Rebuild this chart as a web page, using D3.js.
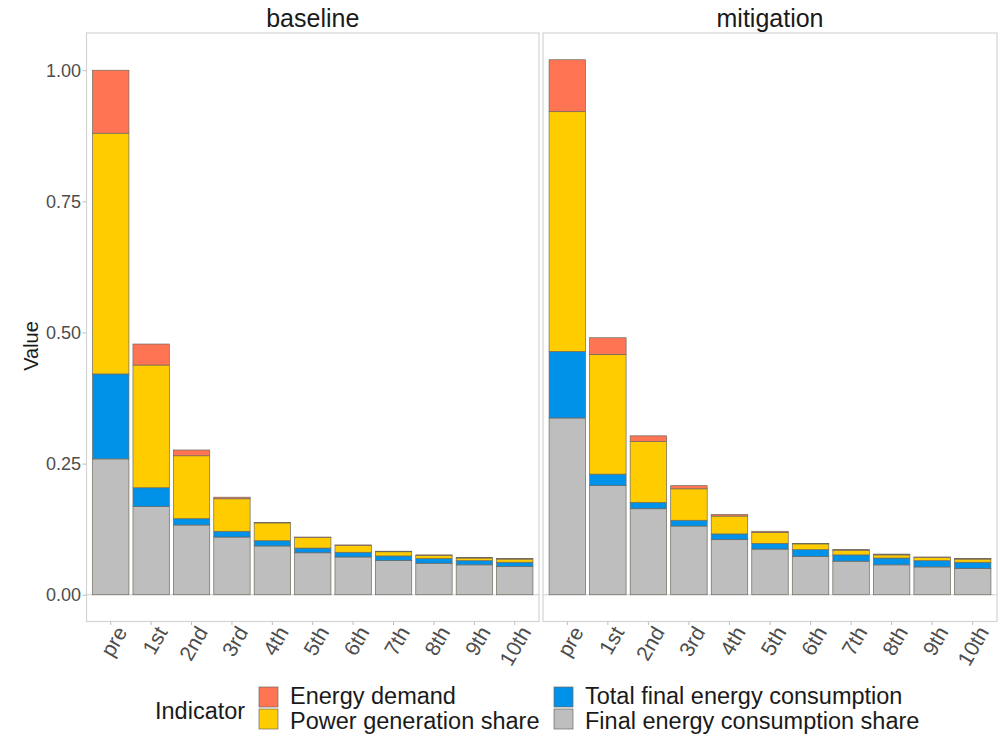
<!DOCTYPE html>
<html>
<head>
<meta charset="utf-8">
<script src="https://cdn.jsdelivr.net/npm/d3@7"></script>
<style>
  body { margin: 0; background: #fff; }
  text { font-family: "Liberation Sans", Arial, sans-serif; }
</style>
</head>
<body>
<div id="chart"></div>
<script>
// data
const periods = ["pre", "1st", "2nd", "3rd", "4th", "5th", "6th", "7th", "8th", "9th", "10th"];
const scenarios = ["baseline", "mitigation"];
const indicators = ["Final energy consumption share", "Total final energy consumption", "Power generation share", "Energy demand"];

// baseline
const baseFinalShare = [0.259, 0.168, 0.133, 0.110, 0.093, 0.080, 0.072, 0.065, 0.060, 0.057, 0.054];
const baseTotalFinal = [0.162, 0.036, 0.012, 0.011, 0.010, 0.009, 0.009, 0.009, 0.009, 0.008, 0.008];
const basePowerShare = [0.459, 0.234, 0.120, 0.062, 0.034, 0.020, 0.013, 0.008, 0.006, 0.005, 0.006];
const baseDemand     = [0.120, 0.040, 0.011, 0.003, 0.001, 0.001, 0.001, 0.001, 0.001, 0.001, 0.001];

// mitigation
const mitFinalShare = [0.337, 0.208, 0.164, 0.131, 0.105, 0.087, 0.073, 0.064, 0.057, 0.053, 0.050];
const mitTotalFinal = [0.127, 0.022, 0.012, 0.011, 0.011, 0.011, 0.013, 0.012, 0.013, 0.012, 0.012];
const mitPowerShare = [0.457, 0.228, 0.116, 0.060, 0.034, 0.021, 0.011, 0.009, 0.006, 0.006, 0.006];
const mitDemand     = [0.099, 0.032, 0.011, 0.006, 0.003, 0.002, 0.001, 0.001, 0.0015, 0.001, 0.001];

const yTicks = [0, 0.25, 0.5, 0.75, 1.0];

const colors = {
  "Energy demand": "#FF7554",
  "Power generation share": "#FFCC00",
  "Total final energy consumption": "#0091E8",
  "Final energy consumption share": "#BEBEBE"
};

const seriesByScenario = {
  baseline: [baseFinalShare, baseTotalFinal, basePowerShare, baseDemand],
  mitigation: [mitFinalShare, mitTotalFinal, mitPowerShare, mitDemand]
};

function rowsFor(scn) {
  const s = seriesByScenario[scn];
  return periods.map((p, i) => {
    const row = { period: p };
    indicators.forEach((k, j) => { row[k] = s[j][i]; });
    return row;
  });
}

const svgWidth = 1000;
const svgHeight = 734;

const panelTop = 33;
const panelBottom = 621.5;
const panels = [
  { name: scenarios[0], x0: 86.5, x1: 539 },
  { name: scenarios[1], x0: 543, x1: 997 }
];

const svg = d3.select("#chart")
  .append("svg")
  .attr("width", svgWidth)
  .attr("height", svgHeight);

const yScale = d3.scaleLinear()
  .domain([-0.051, 1.071])
  .range([panelBottom, panelTop]);

const stack = d3.stack().keys(indicators);

panels.forEach(function (pn) {
  // bar centres sit 0.6 step in from the panel edge, bars are 0.9 step wide
  const xScale = d3.scaleBand()
    .domain(periods)
    .range([pn.x0, pn.x1])
    .paddingInner(0.1)
    .paddingOuter(0.15);

  const g = svg.append("g");

  // panel background + border
  g.append("rect")
    .attr("x", pn.x0)
    .attr("y", panelTop)
    .attr("width", pn.x1 - pn.x0)
    .attr("height", panelBottom - panelTop)
    .attr("fill", "#fff")
    .attr("stroke", "#D4D4D4")
    .attr("stroke-width", 1.2);

  // zero line (light)
  g.append("line")
    .attr("x1", pn.x0).attr("x2", pn.x1)
    .attr("y1", yScale(0)).attr("y2", yScale(0))
    .attr("stroke", "#CFCFCF").attr("stroke-width", 1);

  // strip title
  g.append("text")
    .attr("x", (pn.x0 + pn.x1) / 2)
    .attr("y", 27)
    .attr("text-anchor", "middle")
    .attr("font-size", "25px")
    .attr("fill", "#1A1A1A")
    .text(pn.name);

  const stacked = stack(rowsFor(pn.name));

  g.selectAll("g.layer")
    .data(stacked)
    .enter()
    .append("g")
    .attr("class", "layer")
    .attr("fill", d => colors[d.key])
    .selectAll("rect")
    .data(d => d)
    .enter()
    .append("rect")
    .attr("x", d => xScale(d.data.period))
    .attr("width", xScale.bandwidth())
    .attr("y", d => yScale(d[1]))
    .attr("height", d => yScale(d[0]) - yScale(d[1]))
    .attr("stroke", "#6E6A5E")
    .attr("stroke-width", 0.7);

  // x axis
  const xAxis = g.append("g")
    .attr("transform", `translate(0, ${panelBottom})`)
    .call(d3.axisBottom(xScale).tickSize(3.5).tickSizeOuter(0).tickPadding(0));
  xAxis.select(".domain").remove();
  xAxis.selectAll(".tick line").attr("stroke", "#BDBDBD");
  xAxis.selectAll(".tick text")
    .attr("font-size", "21px")
    .attr("fill", "#4D4D4D")
    .attr("text-anchor", "end")
    .attr("dy", null)
    .attr("y", null)
    .attr("transform", "translate(17, 10.5) rotate(-60)");
});

// y axis (left panel only)
const yAxis = svg.append("g")
  .attr("transform", `translate(${panels[0].x0}, 0)`)
  .call(d3.axisLeft(yScale).tickValues(yTicks).tickFormat(d3.format(".2f")).tickSize(4).tickPadding(1.5));
yAxis.select(".domain").remove();
yAxis.selectAll(".tick line").attr("stroke", "#BDBDBD");
yAxis.selectAll(".tick text")
  .attr("font-size", "18px")
  .attr("fill", "#4D4D4D");

svg.append("text")
  .attr("transform", "translate(38, 346) rotate(-90)")
  .attr("text-anchor", "middle")
  .attr("font-size", "20px")
  .attr("fill", "#1A1A1A")
  .text("Value");

// legend
const legend = svg.append("g");
legend.append("text")
  .attr("x", 155)
  .attr("y", 719)
  .attr("font-size", "23.5px")
  .attr("fill", "#1A1A1A")
  .text("Indicator");

const legendItems = [
  { key: "Energy demand", x: 258, y: 686, ty: 704 },
  { key: "Power generation share", x: 258, y: 708, ty: 729 },
  { key: "Total final energy consumption", x: 553, y: 686, ty: 704 },
  { key: "Final energy consumption share", x: 553, y: 708, ty: 729 }
];

legendItems.forEach(function (it) {
  legend.append("rect")
    .attr("x", it.x + 1)
    .attr("y", it.y + 1)
    .attr("width", 19)
    .attr("height", 20)
    .attr("fill", colors[it.key])
    .attr("stroke", "#6E6A5E")
    .attr("stroke-width", 0.7);
  legend.append("text")
    .attr("x", it.x + 32)
    .attr("y", it.ty)
    .attr("font-size", "23.5px")
    .attr("fill", "#1A1A1A")
    .text(it.key);
});
</script>
</body>
</html>
